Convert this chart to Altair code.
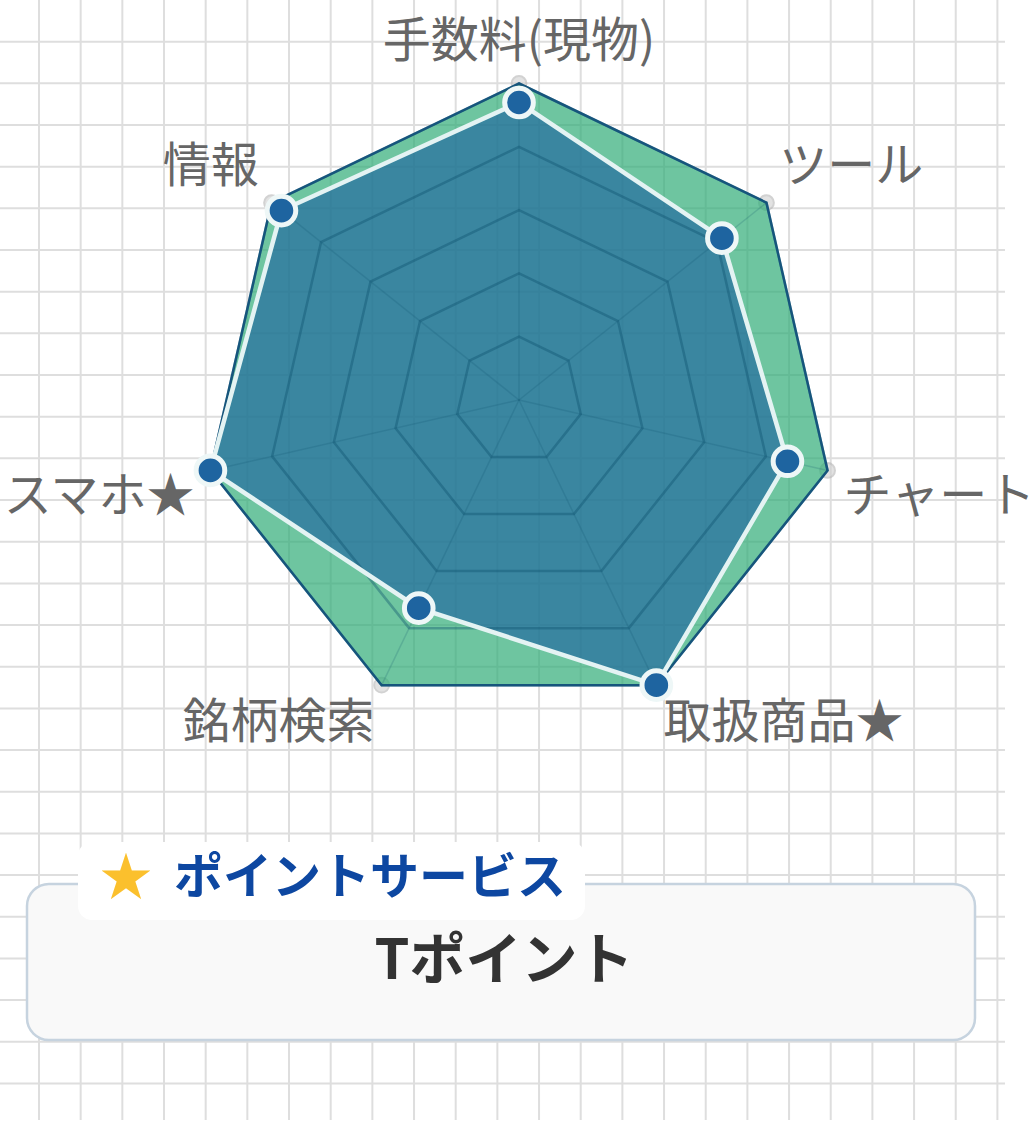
import math
import altair as alt
import pandas as pd

# ---------------- data ----------------
categories = ["手数料(現物)", "ツール", "チャート", "取扱商品★", "銘柄検索", "スマホ★", "情報"]
score_values = [4.7, 4.1, 4.35, 5.0, 3.65, 5.0, 4.8]
full_values = [5, 5, 5, 5, 5, 5, 5]
ring_levels = [1, 2, 3, 4, 5]
scale_max = 5
tab_icon = "★"
tab_title = "ポイントサービス"
box_value = "Tポイント"
grid_cols = list(range(24))
grid_rows = list(range(1, 27))

# ---------------- layout ----------------
W, H = 1034, 1120
CX, CY = 519, 400
PX = 63.3          # pixels per radar unit
LABEL_R = 5.26     # label distance in radar units
CELL = 41.67
GRID_X0 = 39
FONT = "Noto Sans CJK JP"

n = len(categories)


def polar(i, r):
    a = math.radians(90 - i * 360 / n)
    return r * math.cos(a), r * math.sin(a)


xs = alt.Scale(domain=[-CX / PX, (W - CX) / PX], nice=False, zero=False)
ys = alt.Scale(domain=[-(H - CY) / PX, CY / PX], nice=False, zero=False)
X = lambda f: alt.X(f, type="quantitative", scale=xs, axis=None)
Y = lambda f: alt.Y(f, type="quantitative", scale=ys, axis=None)

# polygons
rows = []
for s, vals in (("full", full_values), ("score", score_values)):
    for i, (c, v) in enumerate(zip(categories, vals)):
        x, y = polar(i, v)
        rows.append({"series": s, "idx": i, "category": c, "value": v, "x": x, "y": y})
poly = pd.DataFrame(rows)
full_df = poly[poly.series == "full"]
score_df = poly[poly.series == "score"]

# rings
ring_rows = []
for lv in ring_levels:
    for i in range(n):
        x, y = polar(i, lv)
        ring_rows.append({"level": lv, "idx": i, "x": x, "y": y})
rings = pd.DataFrame(ring_rows)

# spokes
spoke_rows = []
for i in range(n):
    x, y = polar(i, scale_max)
    spoke_rows.append({"idx": i, "x0": 0.0, "y0": 0.0, "x": x, "y": y})
spokes = pd.DataFrame(spoke_rows)

# labels (Chart.js-like placement)
lab_rows = []
for i, c in enumerate(categories):
    x, y = polar(i, LABEL_R)
    a = round(i * 360 / n, 6)
    align = "center" if a in (0, 180) else ("left" if a < 180 else "right")
    if a in (90, 270):
        base = "middle"
    elif a < 90 or a > 270:
        base = "bottom"
    else:
        base = "top"
    lab_rows.append({"category": c, "x": x, "y": y, "align": align, "baseline": base})
labels = pd.DataFrame(lab_rows)

# ---------------- background grid ----------------
gxs = alt.Scale(domain=[-GRID_X0 / CELL, (W - GRID_X0) / CELL], nice=False, zero=False)
gys = alt.Scale(domain=[0, H / CELL], nice=False, zero=False, reverse=True)
vgrid = alt.Chart(pd.DataFrame({"col": grid_cols})).mark_rule(
    color="#dedede", strokeWidth=2
).encode(x=alt.X("col:Q", scale=gxs, axis=None), y=alt.value(0), y2=alt.value(H))
hgrid = alt.Chart(pd.DataFrame({"row": grid_rows})).mark_rule(
    color="#dedede", strokeWidth=2
).encode(y=alt.Y("row:Q", scale=gys, axis=None), x=alt.value(0), x2=alt.value(1005))

# ---------------- radar layers ----------------
ghost = alt.Chart(full_df).mark_circle(
    size=220, color="#cfcfcf", opacity=0.6, stroke="#b5b5b5", strokeWidth=2
).encode(x=X("x"), y=Y("y"))

full_fill = alt.Chart(full_df).mark_line(
    interpolate="linear-closed", fill="#31ad77", fillOpacity=0.7,
    stroke="#1d5a86", strokeWidth=2.5
).encode(x=X("x"), y=Y("y"), order=alt.Order("idx:Q"))

score_fill = alt.Chart(score_df).mark_line(
    interpolate="linear-closed", fill="#1e64a0", fillOpacity=0.65,
    strokeOpacity=0
).encode(x=X("x"), y=Y("y"), order=alt.Order("idx:Q"))

spoke_layer = alt.Chart(spokes).mark_rule(
    color="#0b4f6c", opacity=0.18, strokeWidth=1.5
).encode(x=X("x0"), y=Y("y0"), x2="x:Q", y2="y:Q")

ring_layer = alt.Chart(rings).mark_line(
    interpolate="linear-closed", color="#0b4f6c", opacity=0.38, strokeWidth=2.5
).encode(x=X("x"), y=Y("y"), detail="level:N", order=alt.Order("idx:Q"))

score_line = alt.Chart(score_df).mark_line(
    interpolate="linear-closed", color="#e4f3f3", strokeWidth=4.5
).encode(x=X("x"), y=Y("y"), order=alt.Order("idx:Q"))

score_pts = alt.Chart(score_df).mark_circle(
    size=820, color="#1e64a0", opacity=1, stroke="#eef7f7", strokeWidth=5
).encode(x=X("x"), y=Y("y"))

label_layers = []
for (al, bl), sub in labels.groupby(["align", "baseline"]):
    label_layers.append(
        alt.Chart(sub).mark_text(
            font=FONT, fontSize=48, color="#666666", align=al, baseline=bl
        ).encode(x=X("x"), y=Y("y"), text="category:N")
    )

# ---------------- bottom card ----------------
one = pd.DataFrame({"k": [0]})
card = alt.Chart(one).mark_rect(
    cornerRadius=22, fill="#f9f9f9", stroke="#c6d3df", strokeWidth=2.5
).encode(x=alt.value(27), x2=alt.value(975), y=alt.value(884), y2=alt.value(1040))
tab = alt.Chart(one).mark_rect(cornerRadius=14, fill="#ffffff").encode(
    x=alt.value(78), x2=alt.value(585), y=alt.value(842), y2=alt.value(920)
)
icon = alt.Chart(pd.DataFrame({"t": [tab_icon]})).mark_text(
    font=FONT, fontSize=52, color="#fbc02d", align="center", baseline="middle"
).encode(x=alt.value(126), y=alt.value(880), text="t:N")
tab_text = alt.Chart(pd.DataFrame({"t": [tab_title]})).mark_text(
    font=FONT, fontSize=49, fontWeight="bold", color="#0d47a1", align="left", baseline="middle"
).encode(x=alt.value(174), y=alt.value(879), text="t:N")
value_text = alt.Chart(pd.DataFrame({"t": [box_value]})).mark_text(
    font=FONT, fontSize=56, fontWeight="bold", color="#333333", align="center", baseline="middle"
).encode(x=alt.value(504), y=alt.value(962), text="t:N")

chart = alt.layer(
    vgrid, hgrid, ghost, full_fill, score_fill, spoke_layer, ring_layer,
    score_line, score_pts, *label_layers, card, tab, icon, tab_text, value_text
).resolve_scale(x="independent", y="independent").properties(
    width=W, height=H, padding=0, autosize=alt.AutoSizeParams(type="none"),
    background="#ffffff"
).configure_view(stroke=None)

chart.save("out.html", embed_options={"renderer": "svg", "actions": False})
